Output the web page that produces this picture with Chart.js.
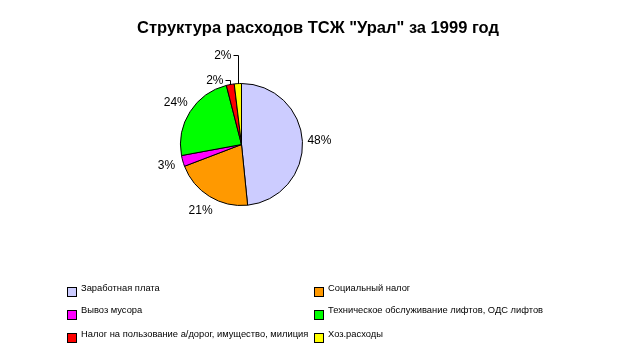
<!DOCTYPE html>
<html><head><meta charset="utf-8">
<script src="https://cdn.jsdelivr.net/npm/chart.js@4/dist/chart.umd.min.js"></script>
<style>
html,body{margin:0;padding:0;background:#fff;}
#wrap{position:relative;width:624px;height:356px;overflow:hidden;font-family:"Liberation Sans",Arial,sans-serif;}
#title{position:absolute;left:0;width:636px;top:17.5px;text-align:center;font-weight:bold;font-size:16.5px;line-height:19px;color:#000;white-space:nowrap;}
canvas{position:absolute;left:0;top:0;}
.lg{position:absolute;font-size:9.35px;line-height:9px;color:#000;white-space:nowrap;}
.bx{position:absolute;width:8px;height:8px;border:1px solid #000;}
</style></head>
<body>
<div id="wrap">
<canvas id="c" width="624" height="356"></canvas>
<div id="title"></div>
<div id="legend"></div>
</div>
<script>
const titleText = 'Структура расходов ТСЖ "Урал" за 1999 год';
const categories = [
  'Заработная плата',
  'Социальный налог',
  'Вывоз мусора',
  'Техническое обслуживание лифтов, ОДС лифтов',
  'Налог на пользование а/дорог, имущество, милиция',
  'Хоз.расходы'
];
// shares in percent (labels show rounded values)
const values = [48.4, 20.8, 2.9, 23.9, 2.1, 1.9];
const colors = ['#CCCCFF', '#FF9900', '#FF00FF', '#00FF00', '#FF0000', '#FFFF00'];
const pctLabels = ['48%', '21%', '3%', '24%', '2%', '2%'];

document.getElementById('title').textContent = titleText;

// legend (two columns, reading order left-right)
const lg = document.getElementById('legend');
const colBox = [67, 314], colText = [81, 328];
const rowBox = [287, 310, 333], rowText = [284, 306, 330];
categories.forEach((c, i) => {
  const col = i % 2, row = Math.floor(i / 2);
  const b = document.createElement('div');
  b.className = 'bx';
  b.style.left = colBox[col] + 'px'; b.style.top = rowBox[row] + 'px';
  b.style.background = colors[i];
  lg.appendChild(b);
  const t = document.createElement('div');
  t.className = 'lg';
  t.style.left = colText[col] + 'px'; t.style.top = rowText[row] + 'px';
  t.textContent = c;
  lg.appendChild(t);
});

const SMALL = 2.5;
const labelPlugin = {
  id: 'pctLabels',
  afterDatasetsDraw(chart) {
    const ctx = chart.ctx;
    const meta = chart.getDatasetMeta(0);
    ctx.save();
    ctx.font = '12px "Liberation Sans", Arial, sans-serif';
    ctx.fillStyle = '#000'; ctx.strokeStyle = '#000'; ctx.lineWidth = 1;
    let prevY = null;
    meta.data.forEach((arc, i) => {
      const p = arc.getProps(['x', 'y', 'startAngle', 'endAngle', 'outerRadius'], true);
      const mid = (p.startAngle + p.endAngle) / 2;
      const txt = pctLabels[i];
      const ex = p.x + Math.cos(mid) * p.outerRadius;
      const ey = p.y + Math.sin(mid) * p.outerRadius;
      if (values[i] < SMALL) {
        const ly = prevY === null ? ey - 5 : prevY - 25;
        prevY = ly;
        const lx = Math.round(ex) + 0.5, lyy = Math.round(ly) + 0.5;
        ctx.beginPath();
        ctx.moveTo(lx, Math.round(ey));
        ctx.lineTo(lx, lyy);
        ctx.lineTo(lx - 5, lyy);
        ctx.stroke();
        ctx.textAlign = 'right'; ctx.textBaseline = 'middle';
        ctx.fillText(txt, lx - 7, lyy);
      } else {
        const R = p.outerRadius + 17;
        ctx.textAlign = 'center'; ctx.textBaseline = 'middle';
        ctx.fillText(txt, p.x + Math.cos(mid) * R, p.y + Math.sin(mid) * R);
      }
    });
    ctx.restore();
  }
};

new Chart(document.getElementById('c'), {
  type: 'pie',
  data: {
    labels: categories,
    datasets: [{
      data: values,
      backgroundColor: colors,
      borderColor: '#000',
      borderWidth: 1,
      hoverOffset: 0
    }]
  },
  options: {
    responsive: false,
    animation: false,
    devicePixelRatio: 1,
    layout: { padding: { left: 180, right: 321, top: 83, bottom: 150 } },
    plugins: { legend: { display: false }, title: { display: false }, tooltip: { enabled: false } }
  },
  plugins: [labelPlugin]
});
</script>
</body></html>
